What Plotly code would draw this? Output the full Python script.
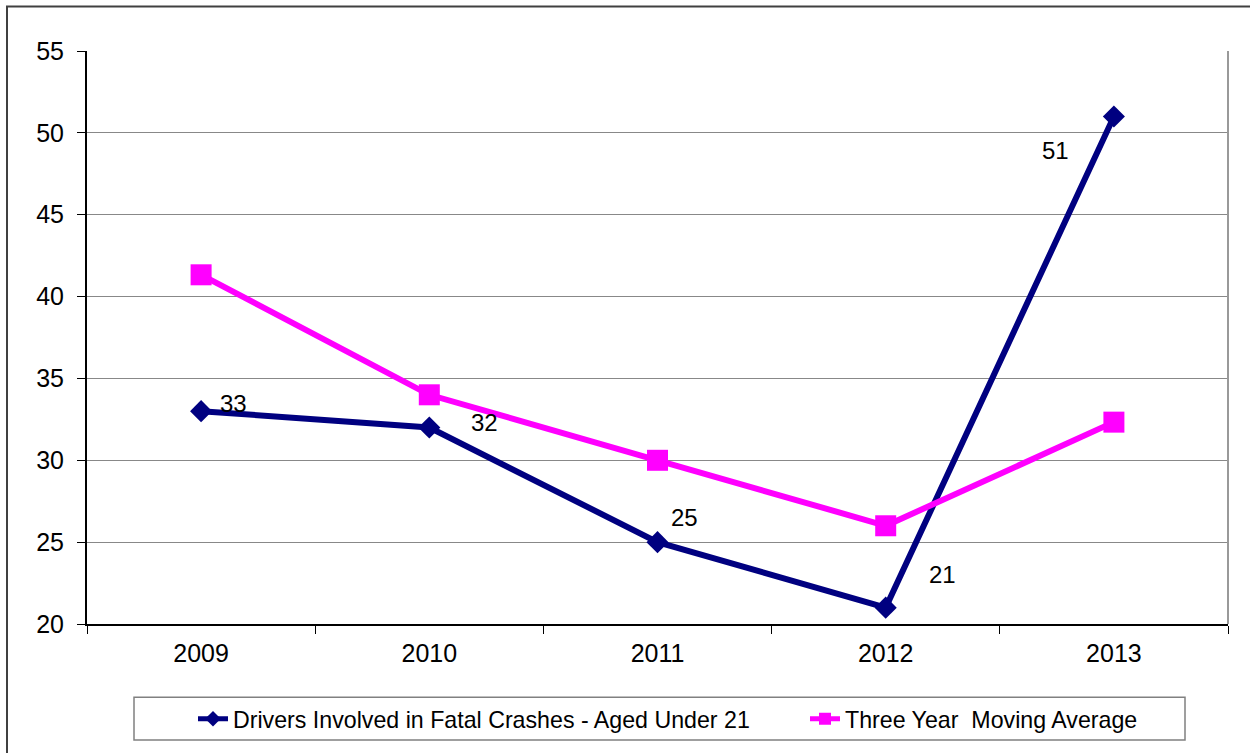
import plotly.graph_objects as go

years = ["2009", "2010", "2011", "2012", "2013"]
drivers_under_21 = [33, 32, 25, 21, 51]
three_year_avg = [41.33, 34, 30, 26, 32.33]
y_ticks = [20, 25, 30, 35, 40, 45, 50, 55]

name_drivers = "Drivers Involved in Fatal Crashes - Aged Under 21"
name_avg = "Three Year  Moving Average"

# label offsets (px) for data labels of the drivers series
label_dx = [32, 55, 27, 57, -58]
label_dy = [8, 5, 25, 33, -34]

FONT = "Liberation Sans, Arial, sans-serif"
NAVY = "#000080"
MAGENTA = "#FF00FF"

L, R, T, B = 87, 1228, 51, 629
W, H = 1250, 753
pw, ph = R - L, B - T


def px_x(p):
    return (p - L) / pw


def px_y(p):
    return (B - p) / ph


fig = go.Figure()
fig.add_trace(go.Scatter(
    x=years, y=drivers_under_21, name=name_drivers, mode="lines+markers",
    line=dict(color=NAVY, width=6),
    marker=dict(symbol="diamond", size=17, color=NAVY),
    legend="legend",
))
fig.add_trace(go.Scatter(
    x=years, y=three_year_avg, name=name_avg, mode="lines+markers",
    line=dict(color=MAGENTA, width=6),
    marker=dict(symbol="square", size=21, color=MAGENTA),
    legend="legend2",
))

for i, (v, dx, dy) in enumerate(zip(drivers_under_21, label_dx, label_dy)):
    fig.add_annotation(x=i, y=v, xref="x", yref="y", text=str(v), showarrow=False,
                       xshift=dx, yshift=dy,
                       font=dict(family=FONT, size=24, color="black"))

# outer frame
fig.add_shape(type="rect", xref="paper", yref="paper",
              x0=px_x(7), x1=px_x(1300), y0=px_y(800), y1=px_y(6),
              line=dict(color="#404040", width=2), layer="below")
# right plot border
fig.add_shape(type="line", xref="paper", yref="paper",
              x0=1, x1=1, y0=0, y1=1,
              line=dict(color="#999999", width=2))
# legend box
fig.add_shape(type="rect", xref="paper", yref="paper",
              x0=px_x(134), x1=px_x(1185), y0=px_y(746), y1=px_y(703),
              line=dict(color="#808080", width=1.5))

legend_common = dict(orientation="h", xanchor="left", yanchor="middle",
                     y=px_y(725), font=dict(family=FONT, size=23.2, color="black"),
                     bgcolor="rgba(0,0,0,0)", borderwidth=0,
                     itemsizing="constant")

fig.update_layout(
    width=W, height=H,
    margin=dict(l=L, r=W - R, t=T, b=H - B),
    paper_bgcolor="white", plot_bgcolor="white",
    showlegend=True,
    legend=dict(x=px_x(193), **legend_common),
    legend2=dict(x=px_x(805), **legend_common),
    xaxis=dict(
        type="category", range=[-0.5, 4.5],
        tickson="boundaries", ticks="outside", ticklen=8, tickcolor="black",
        showline=True, linecolor="black", linewidth=2,
        showgrid=False, zeroline=False,
        tickfont=dict(family=FONT, size=25, color="black"),
        ticklabelstandoff=6,
    ),
    yaxis=dict(
        range=[20, 55], tickvals=y_ticks,
        ticks="outside", ticklen=8, tickcolor="black",
        showline=True, linecolor="black", linewidth=2,
        showgrid=True, gridcolor="#888888", gridwidth=1,
        zeroline=False,
        tickfont=dict(family=FONT, size=25, color="black"),
        ticklabelstandoff=8,
    ),
)

fig.write_html("out.html", config={"displayModeBar": False},
               post_script="document.body.style.margin='0';document.body.style.overflow='hidden';")
